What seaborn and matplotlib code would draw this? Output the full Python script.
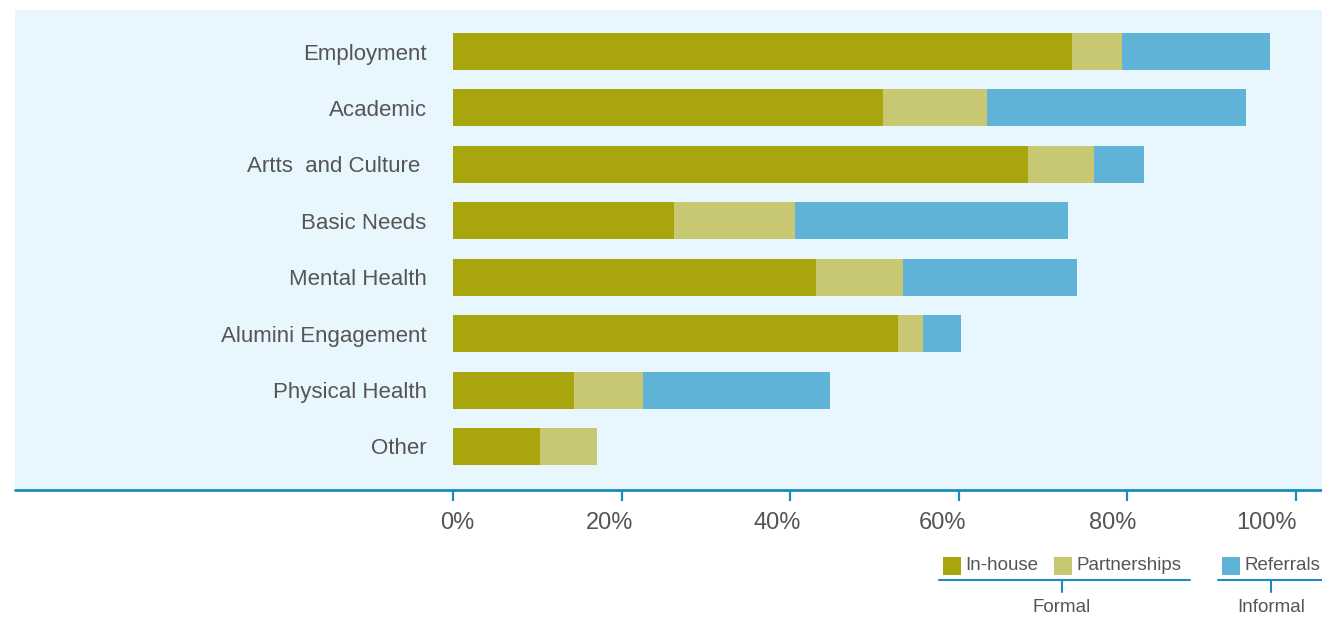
import matplotlib
matplotlib.use("Agg")
import matplotlib.pyplot as plt
from matplotlib.patches import Rectangle
from matplotlib.lines import Line2D
from matplotlib.transforms import ScaledTranslation
import seaborn as sns
import pandas as pd

categories = ["Employment", "Academic", "Artts  and Culture ", "Basic Needs",
              "Mental Health", "Alumini Engagement", "Physical Health", "Other"]
inhouse = [73.4, 51.0, 68.2, 26.2, 43.1, 52.8, 14.4, 10.3]
partnerships = [6.0, 12.3, 7.8, 14.4, 10.3, 3.0, 8.1, 6.8]
referrals = [17.5, 30.8, 6.0, 32.4, 20.6, 4.5, 22.2, 0.0]
series_names = ["In-house", "Partnerships", "Referrals"]
colors = ["#a8a60c", "#c9c872", "#5eb3d7"]
xticks = [0, 20, 40, 60, 80, 100]
xticklabels = ["0%", "20%", "40%", "60%", "80%", "100%"]

sns.set_theme(style="white")
plt.rcParams['font.family'] = ['Liberation Sans', 'DejaVu Sans']

W, H = 1322, 618
fig = plt.figure(figsize=(W / 100, H / 100), dpi=100)
fig.patch.set_facecolor("white")

panel_color = "#e8f6fd"
axis_blue = "#1a8bbf"
text_gray = "#555555"

# panel background (behind everything)
fig.patches.append(Rectangle((15 / W, 1 - 490 / H), 1 - 15 / W, 480 / H,
                             transform=fig.transFigure, facecolor=panel_color,
                             edgecolor="none", zorder=-10))

ax_left = 453
ax = fig.add_axes([ax_left / W, 1 - 490 / H, (W - ax_left) / W, 480 / H])
ax.set_facecolor(panel_color)
ax.set_zorder(1)

df = pd.DataFrame({"cat": categories, "inhouse": inhouse,
                   "partnerships": partnerships, "referrals": referrals})
df["c1"] = df["inhouse"]
df["c2"] = df["inhouse"] + df["partnerships"]
df["c3"] = df["c2"] + df["referrals"]

bar_w = 37 / 56.4
for col, color in zip(["c3", "c2", "c1"], colors[::-1]):
    sns.barplot(data=df, y="cat", x=col, color=color, orient="h",
                width=bar_w, saturation=1, ax=ax, edgecolor="none",
                linewidth=0, errorbar=None)

px_per = 8.43
ax.set_xlim(0, (W - ax_left) / px_per)
ax.set_ylim(7 + 43.5 / 56.4, -41.5 / 56.4)
ax.set_xlabel("")
ax.set_ylabel("")
for s in ax.spines.values():
    s.set_visible(False)

ax.set_xticks(xticks)
ax.set_xticklabels(xticklabels, fontsize=17, color=text_gray)
ax.tick_params(axis="x", which="both", bottom=True, length=8, width=1.6,
               color=axis_blue, pad=8, direction="out")
ax.tick_params(axis="y", which="both", left=False, length=0, pad=19,
               labelsize=16, labelcolor=text_gray)

# small per-label horizontal offsets as in the reference
label_shift_px = [4, -12, -13, -16, -15, -29]
for lab, dx in zip(ax.get_xticklabels(), label_shift_px):
    lab.set_transform(lab.get_transform() + ScaledTranslation(dx / 100, 0, fig.dpi_scale_trans))

# bottom axis line spanning the panel
fig.add_artist(Line2D([15 / W, 1], [1 - 490 / H, 1 - 490 / H],
                      transform=fig.transFigure, color=axis_blue, lw=2, zorder=5))

# legend
def square(x, color):
    fig.patches.append(Rectangle((x / W, 1 - 575 / H), 18 / W, 18 / H,
                                 transform=fig.transFigure, facecolor=color,
                                 edgecolor="none"))

leg_y = 1 - 566 / H
sq_x = [943, 1054, 1222]
for x, name, color in zip(sq_x, series_names, colors):
    square(x, color)
    fig.text((x + 22) / W, leg_y, name, fontsize=13.5, color=text_gray,
             ha="left", va="center")

line_y = 1 - 580 / H
for x0, x1, xc, label in [(939, 1190, 1062, "Formal"), (1218, 1322, 1271, "Informal")]:
    fig.add_artist(Line2D([x0 / W, x1 / W], [line_y, line_y],
                          transform=fig.transFigure, color=axis_blue, lw=1.5))
    fig.add_artist(Line2D([xc / W, xc / W], [line_y, 1 - 592 / H],
                          transform=fig.transFigure, color=axis_blue, lw=1.5))
    fig.text(xc / W, 1 - 607 / H, label, fontsize=13.5, color=text_gray,
             ha="center", va="center")

fig.savefig("out.png", dpi=100, facecolor="white")
